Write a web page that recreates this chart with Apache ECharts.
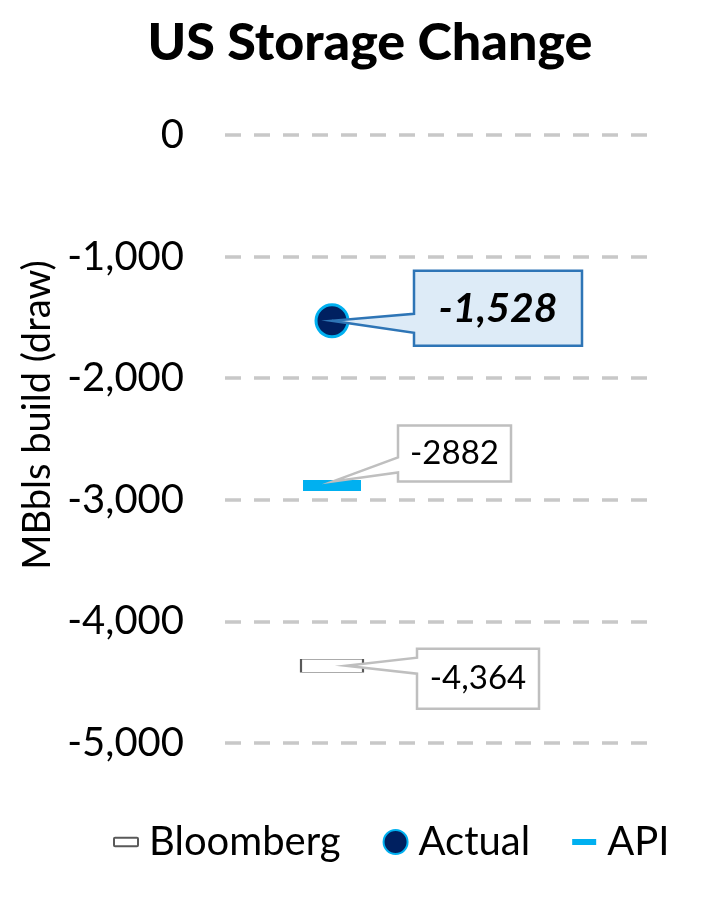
<!DOCTYPE html>
<html><head><meta charset="utf-8">
<script src="https://cdn.jsdelivr.net/npm/echarts@6/dist/echarts.min.js"></script>
<style>html,body{margin:0;padding:0;background:#fff}#c{width:705px;height:912px}</style>
</head><body><div id="c"></div>
<script>
const categories = ['Week', ''];
const bloomberg = [-4364, null];
const actual = [-1528, null];
const api = [-2882, null];
const yTicks = { min: -5000, max: 0, interval: 1000 };
const labelTexts = { bloomberg: '-4,364', actual: '-1,528', api: '-2882' };

const FONT = 'Lato';
const chart = echarts.init(document.getElementById('c'));

function callout(cfg) {
  return function (params, apiR) {
    const p = apiR.coord([apiR.value(0), apiR.value(1)]);
    const tx = p[0] + cfg.tip[0], ty = p[1] + cfg.tip[1];
    const L = p[0] + cfg.box[0], T = p[1] + cfg.box[1];
    const R = L + cfg.box[2], B = T + cfg.box[3];
    const w1 = p[1] + cfg.wedge[0], w2 = p[1] + cfg.wedge[1];
    return {
      type: 'group',
      children: [
        { type: 'polygon', shape: { points: [[L, T], [R, T], [R, B], [L, B], [L, w2], [tx, ty], [L, w1]] },
          style: { fill: cfg.fill, stroke: cfg.stroke, lineWidth: cfg.lw, lineJoin: 'miter' } },
        { type: 'text', x: (L + R) / 2, y: (T + B) / 2,
          style: { text: cfg.text, fill: '#000', font: cfg.font, align: 'center', verticalAlign: 'middle' } }
      ]
    };
  };
}

const option = {
  animation: false,
  backgroundColor: '#fff',
  title: {
    text: 'US Storage Change', left: 365, top: 12, textAlign: 'center',
    textStyle: { fontFamily: FONT, fontWeight: 900, fontSize: 52, color: '#000' }
  },
  grid: { left: 225, right: 52, top: 135, bottom: 169, containLabel: false },
  legend: {
    top: 817, left: 108, itemGap: 42, itemWidth: 24, itemHeight: 24,
    textStyle: { fontFamily: FONT, fontSize: 40, color: '#000', padding: [0, 0, 0, 6] },
    data: [
      { name: 'Bloomberg', icon: 'path://M1,0H22Q23,0 23,1V7Q23,8 22,8H1Q0,8 0,7V1Q0,0 1,0Z' },
      { name: 'Actual', icon: 'circle' },
      { name: 'API', icon: 'path://M0,0H20V5H0Z' }
    ]
  },
  xAxis: {
    type: 'category', data: categories, boundaryGap: true,
    axisLine: { show: false }, axisTick: { show: false }, axisLabel: { show: false }, splitLine: { show: false }
  },
  yAxis: {
    type: 'value', min: yTicks.min, max: yTicks.max, interval: yTicks.interval,
    name: 'MBbls build (draw)', nameLocation: 'middle', nameGap: 150,
    nameTextStyle: { fontFamily: FONT, fontSize: 38, color: '#000', padding: [0, 0, 0, 48] },
    axisLine: { show: false }, axisTick: { show: false },
    axisLabel: { fontFamily: FONT, fontSize: 40, color: '#000', margin: 41,
      formatter: v => v.toLocaleString('en-US') },
    splitLine: { lineStyle: { type: [16, 13], color: '#c8c8c8', width: 3.5 } }
  },
  series: [
    { name: 'Bloomberg', type: 'scatter', data: bloomberg, symbol: 'rect', symbolSize: [62, 13],
      itemStyle: { color: '#ffffff', borderColor: '#595959', borderWidth: 1, opacity: 1 }, z: 3 },
    { name: 'Actual', type: 'scatter', data: actual, symbol: 'circle', symbolSize: 32,
      itemStyle: { color: '#002060', borderColor: '#00B0F0', borderWidth: 3, opacity: 1 }, z: 3 },
    { name: 'API', type: 'scatter', data: api, symbol: 'rect', symbolSize: [58, 11],
      itemStyle: { color: '#00B0F0', opacity: 1 }, z: 3 },
    { type: 'custom', data: [[0, actual[0]]], z: 5, silent: true,
      renderItem: callout({ tip: [0, 0], box: [82, -50, 168, 75], wedge: [-7, 12],
        fill: '#DDEBF7', stroke: '#2E75B6', lw: 2.5, text: labelTexts.actual,
        font: 'italic bold 41px ' + FONT }) },
    { type: 'custom', data: [[0, api[0]]], z: 5, silent: true,
      renderItem: callout({ tip: [1, -4], box: [66, -60, 113, 56], wedge: [-28, -13],
        fill: '#ffffff', stroke: '#BFBFBF', lw: 2.5, text: labelTexts.api,
        font: '33px ' + FONT }) },
    { type: 'custom', data: [[0, bloomberg[0]]], z: 5, silent: true,
      renderItem: callout({ tip: [14, 0], box: [85, -17, 122, 60], wedge: [-8, 8],
        fill: '#ffffff', stroke: '#BFBFBF', lw: 2.5, text: labelTexts.bloomberg,
        font: '33px ' + FONT }) }
  ]
};
chart.setOption(option);
</script>
</body></html>
